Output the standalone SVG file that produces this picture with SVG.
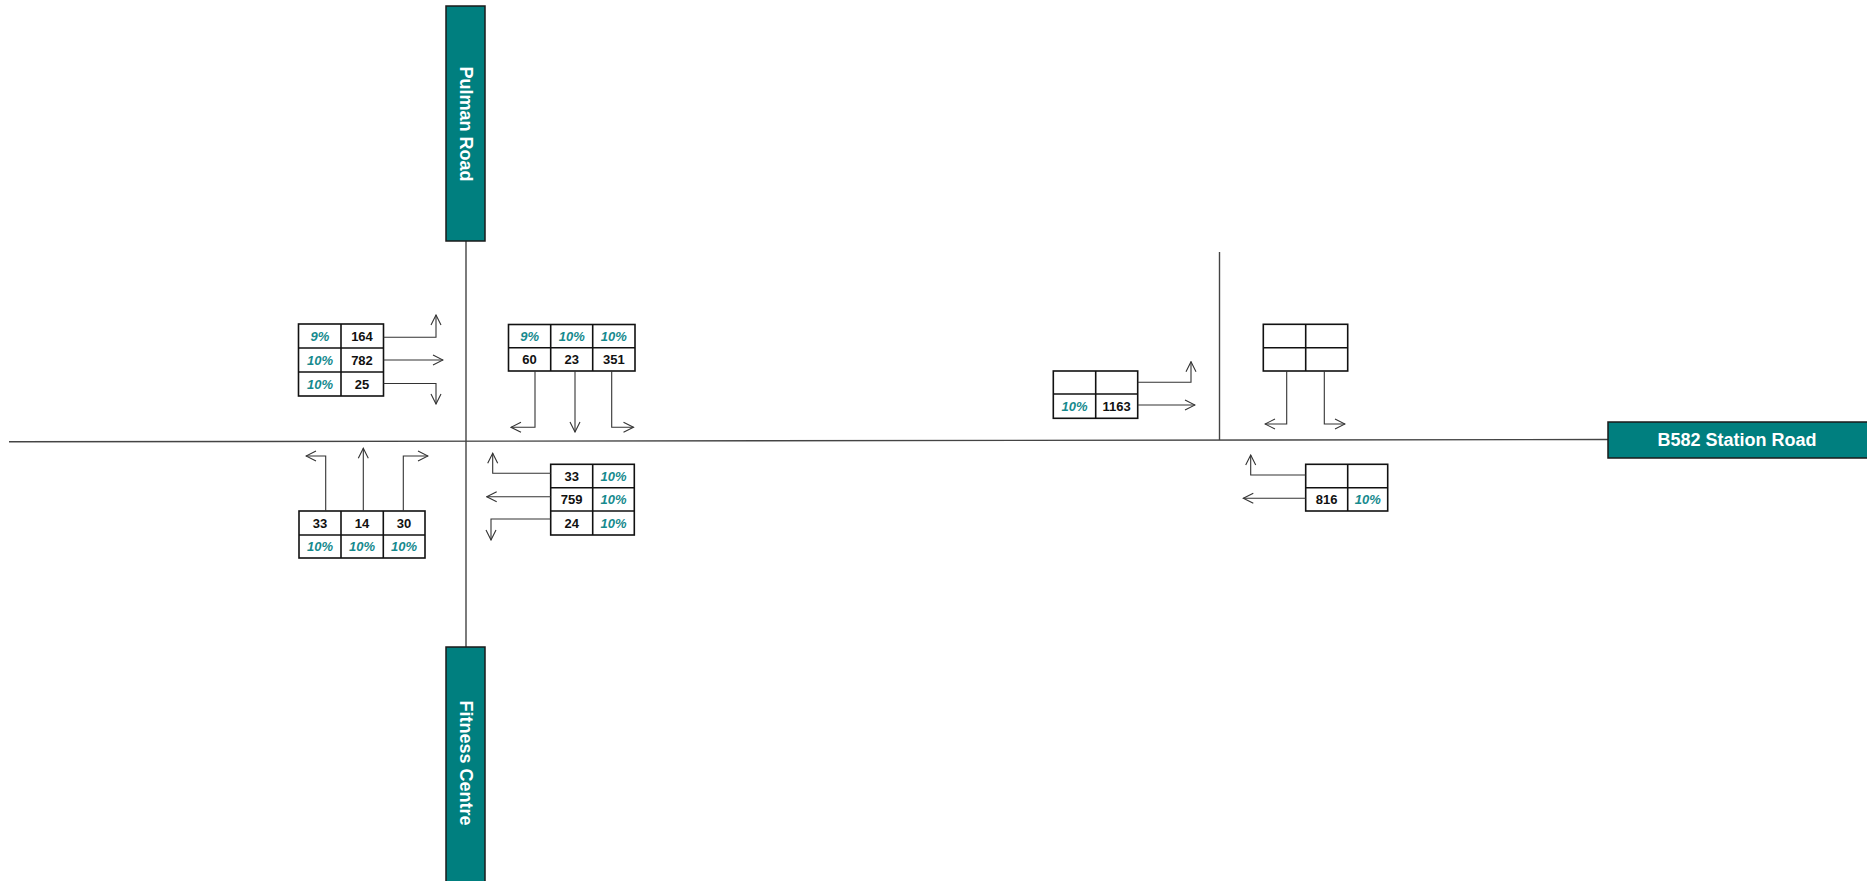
<svg xmlns="http://www.w3.org/2000/svg" width="1867" height="881" viewBox="0 0 1867 881">
  <style>
    .road { stroke: #444; stroke-width: 1.4; fill: none; }
    .label-box { fill: #007f7f; stroke: #1a1a1a; stroke-width: 1.5; }
    .label { font-family: "Liberation Sans", Arial, sans-serif; font-weight: bold; font-size: 18px; fill: #ffffff; text-anchor: middle; dominant-baseline: central; }
    .grid { fill: #ffffff; stroke: #111; stroke-width: 1.6; }
    .gl { stroke: #111; stroke-width: 1.6; }
    .n { font-family: "Liberation Sans", Arial, sans-serif; font-weight: bold; font-size: 13px; fill: #111; text-anchor: middle; }
    .p { font-family: "Liberation Sans", Arial, sans-serif; font-weight: bold; font-style: italic; font-size: 13px; fill: #168a8e; text-anchor: middle; }
    .mv { fill: none; stroke: #333; stroke-width: 1.1; marker-end: url(#head); }
  </style>
  <defs>
    <marker id="head" viewBox="0 0 12 12" refX="11" refY="6" markerWidth="12" markerHeight="12" markerUnits="userSpaceOnUse" orient="auto">
      <path d="M1,1 L11,6 L1,11" fill="none" stroke="#333" stroke-width="1.1"/>
    </marker>
  </defs>

  <!-- carriageway centre lines -->
  <g id="roads">
    <line class="road" x1="9" y1="441.8" x2="1608" y2="439.5"/>
    <line class="road" x1="466" y1="241" x2="466" y2="647"/>
    <line class="road" x1="1219.5" y1="252" x2="1219.5" y2="440"/>
  </g>

  <!-- road name plates -->
  <g id="pulman-road">
    <rect class="label-box" x="446" y="6" width="39" height="235"/>
    <text class="label" transform="translate(465.5 124) rotate(90)">Pulman Road</text>
  </g>
  <g id="fitness-centre">
    <rect class="label-box" x="446" y="647" width="39" height="240"/>
    <text class="label" transform="translate(465.5 763) rotate(90)">Fitness Centre</text>
  </g>
  <g id="station-road">
    <rect class="label-box" x="1608" y="422" width="262" height="36"/>
    <text class="label" x="1737" y="440">B582 Station Road</text>
  </g>

  <!-- turning-movement tables -->
  <g id="west-approach">
    <rect class="grid" x="298.5" y="324" width="85" height="72"/>
    <line class="gl" x1="341" y1="324" x2="341" y2="396"/>
    <line class="gl" x1="298.5" y1="348" x2="383.5" y2="348"/>
    <line class="gl" x1="298.5" y1="372" x2="383.5" y2="372"/>
    <text class="p" x="320" y="341">9%</text><text class="n" x="362" y="341">164</text>
    <text class="p" x="320" y="365">10%</text><text class="n" x="362" y="365">782</text>
    <text class="p" x="320" y="389">10%</text><text class="n" x="362" y="389">25</text>
  </g>
  <g id="north-approach">
    <rect class="grid" x="508.5" y="324.5" width="126.5" height="46.5"/>
    <line class="gl" x1="550.7" y1="324.5" x2="550.7" y2="371"/>
    <line class="gl" x1="592.7" y1="324.5" x2="592.7" y2="371"/>
    <line class="gl" x1="508.5" y1="347.7" x2="635" y2="347.7"/>
    <text class="p" x="529.6" y="341">9%</text><text class="p" x="571.7" y="341">10%</text><text class="p" x="613.8" y="341">10%</text>
    <text class="n" x="529.6" y="364">60</text><text class="n" x="571.7" y="364">23</text><text class="n" x="613.8" y="364">351</text>
  </g>
  <g id="south-approach">
    <rect class="grid" x="299" y="511" width="126" height="47"/>
    <line class="gl" x1="341" y1="511" x2="341" y2="558"/>
    <line class="gl" x1="383.3" y1="511" x2="383.3" y2="558"/>
    <line class="gl" x1="299" y1="535" x2="425" y2="535"/>
    <text class="n" x="320" y="528">33</text><text class="n" x="362" y="528">14</text><text class="n" x="404" y="528">30</text>
    <text class="p" x="320" y="551">10%</text><text class="p" x="362" y="551">10%</text><text class="p" x="404" y="551">10%</text>
  </g>
  <g id="east-approach">
    <rect class="grid" x="550.7" y="464.3" width="83.6" height="70.7"/>
    <line class="gl" x1="592.7" y1="464.3" x2="592.7" y2="535"/>
    <line class="gl" x1="550.7" y1="487.7" x2="634.3" y2="487.7"/>
    <line class="gl" x1="550.7" y1="511" x2="634.3" y2="511"/>
    <text class="n" x="571.7" y="481">33</text><text class="p" x="613.5" y="481">10%</text>
    <text class="n" x="571.7" y="504">759</text><text class="p" x="613.5" y="504">10%</text>
    <text class="n" x="571.7" y="528">24</text><text class="p" x="613.5" y="528">10%</text>
  </g>
  <g id="station-eastbound">
    <rect class="grid" x="1053.3" y="371" width="84.4" height="47.3"/>
    <line class="gl" x1="1095.7" y1="371" x2="1095.7" y2="418.3"/>
    <line class="gl" x1="1053.3" y1="394" x2="1137.7" y2="394"/>
    <text class="p" x="1074.5" y="411">10%</text><text class="n" x="1116.7" y="411">1163</text>
  </g>
  <g id="side-road-exit">
    <rect class="grid" x="1263.3" y="324.3" width="84.4" height="46.7"/>
    <line class="gl" x1="1305.7" y1="324.3" x2="1305.7" y2="371"/>
    <line class="gl" x1="1263.3" y1="347.7" x2="1347.7" y2="347.7"/>
  </g>
  <g id="station-westbound">
    <rect class="grid" x="1305.7" y="464.3" width="82" height="46.7"/>
    <line class="gl" x1="1347.7" y1="464.3" x2="1347.7" y2="511"/>
    <line class="gl" x1="1305.7" y1="487.7" x2="1387.7" y2="487.7"/>
    <text class="n" x="1326.7" y="504">816</text><text class="p" x="1367.7" y="504">10%</text>
  </g>

  <!-- movement arrows -->
  <g id="movements">
    <path class="mv" d="M383.5,337.3 H436 V315"/>
    <path class="mv" d="M383.5,360 H443"/>
    <path class="mv" d="M383.5,383.5 H436 V404"/>

    <path class="mv" d="M535,371 V427.3 H511"/>
    <path class="mv" d="M575,371 V432"/>
    <path class="mv" d="M611.7,371 V427.3 H633.5"/>

    <path class="mv" d="M325.7,511 V456 H306"/>
    <path class="mv" d="M363.3,511 V448.3"/>
    <path class="mv" d="M403.3,511 V456 H428"/>

    <path class="mv" d="M550.7,473.3 H492.7 V453.3"/>
    <path class="mv" d="M550.7,496.7 H486.7"/>
    <path class="mv" d="M550.7,519 H491 V540"/>

    <path class="mv" d="M1137.7,382.3 H1191 V361.7"/>
    <path class="mv" d="M1137.7,405 H1195"/>

    <path class="mv" d="M1286.7,371 V424 H1265"/>
    <path class="mv" d="M1324.3,371 V424 H1345"/>

    <path class="mv" d="M1305.7,475 H1250.7 V455"/>
    <path class="mv" d="M1305.7,498.3 H1243.3"/>
  </g>
</svg>
